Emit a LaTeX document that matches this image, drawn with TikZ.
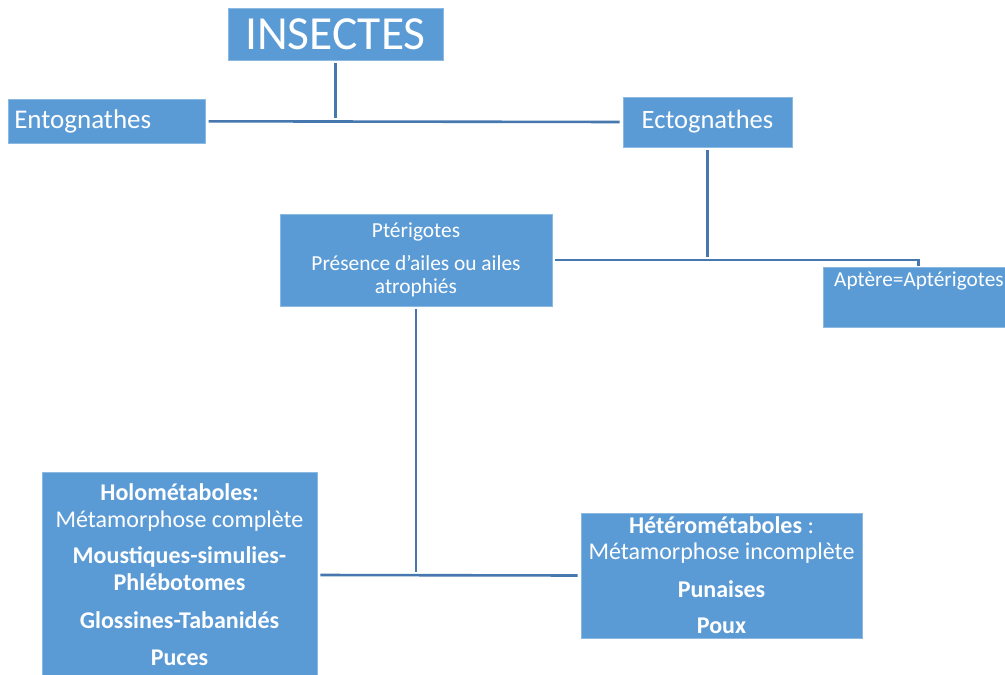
\documentclass[tikz,border=0pt]{standalone}
\usepackage{fontspec}
\setmainfont{Carlito}
\definecolor{boxblue}{HTML}{5B9BD5}
\definecolor{lineblue}{HTML}{4677AE}
\begin{document}
\begin{tikzpicture}[x=1pt,y=-1pt,
  box/.style={fill=boxblue, draw=boxblue!70!white, line width=0.6pt, text=white, inner sep=0pt, align=center},
  conn/.style={draw=lineblue, line width=2.6pt, shorten <=3pt, shorten >=3pt}]
\useasboundingbox (0,0) rectangle (1005,675);
\begin{scope}
\clip (0,0) rectangle (1005,675);
\node[box, minimum width=215, minimum height=52, font=\fontsize{47.5}{50}\selectfont] (ins) at (335.5,34) {INSECTES};
\node[box, minimum width=197, minimum height=44, anchor=north west, text width=185, align=left, inner xsep=6pt, font=\fontsize{27}{30}\selectfont] (ento) at (8,99) {Entognathes};
\node[box, minimum width=169, minimum height=50, font=\fontsize{26.5}{30}\selectfont] (ecto) at (707.5,122) {Ectognathes};
\node[box, minimum width=272, minimum height=92, font=\fontsize{21.4}{23}\selectfont] (pter) at (416,260) {Ptérigotes\\[10pt]Présence d'ailes ou ailes\\atrophiés};
\node[box, minimum width=182, minimum height=60, anchor=north west] (apt) at (823,267) {};
\node[anchor=north west, text=white, inner sep=0pt, font=\fontsize{21.3}{24}\selectfont] (apttxt) at ([xshift=11pt,yshift=-5pt]apt.north west) {Aptère=Aptérigotes};
\node[box, minimum width=275, minimum height=206, font=\fontsize{24}{27}\selectfont] (holo) at (179.5,575) {\textbf{Holométaboles:}\\Métamorphose complète\\[9pt]\textbf{Moustiques-simulies-}\\\textbf{Phlébotomes}\\[11pt]\textbf{Glossines-Tabanidés}\\[10pt]\textbf{Puces}};
\node[box, minimum width=281, minimum height=125, font=\fontsize{24}{26}\selectfont] (het) at (721.5,575.5) {\textbf{Hétérométaboles} :\\Métamorphose incomplète\\[12pt]\textbf{Punaises}\\[10pt]\textbf{Poux}};
\end{scope}
\draw[conn] (ins.south) -- (ins.south |- ento.east);
\draw[conn] (ento.east) -- (ecto.west);
\draw[conn] (ecto.south) -- (ecto.south |- pter.east);
\draw[conn, shorten >=1pt] (pter.east) -- ([xshift=4pt]apt.north |- pter.east) -- ([xshift=4pt]apt.north);
\draw[conn] (pter.south) -- (pter.south |- holo.east);
\draw[conn] (holo.east) -- (het.west);
\end{tikzpicture}
\end{document}
